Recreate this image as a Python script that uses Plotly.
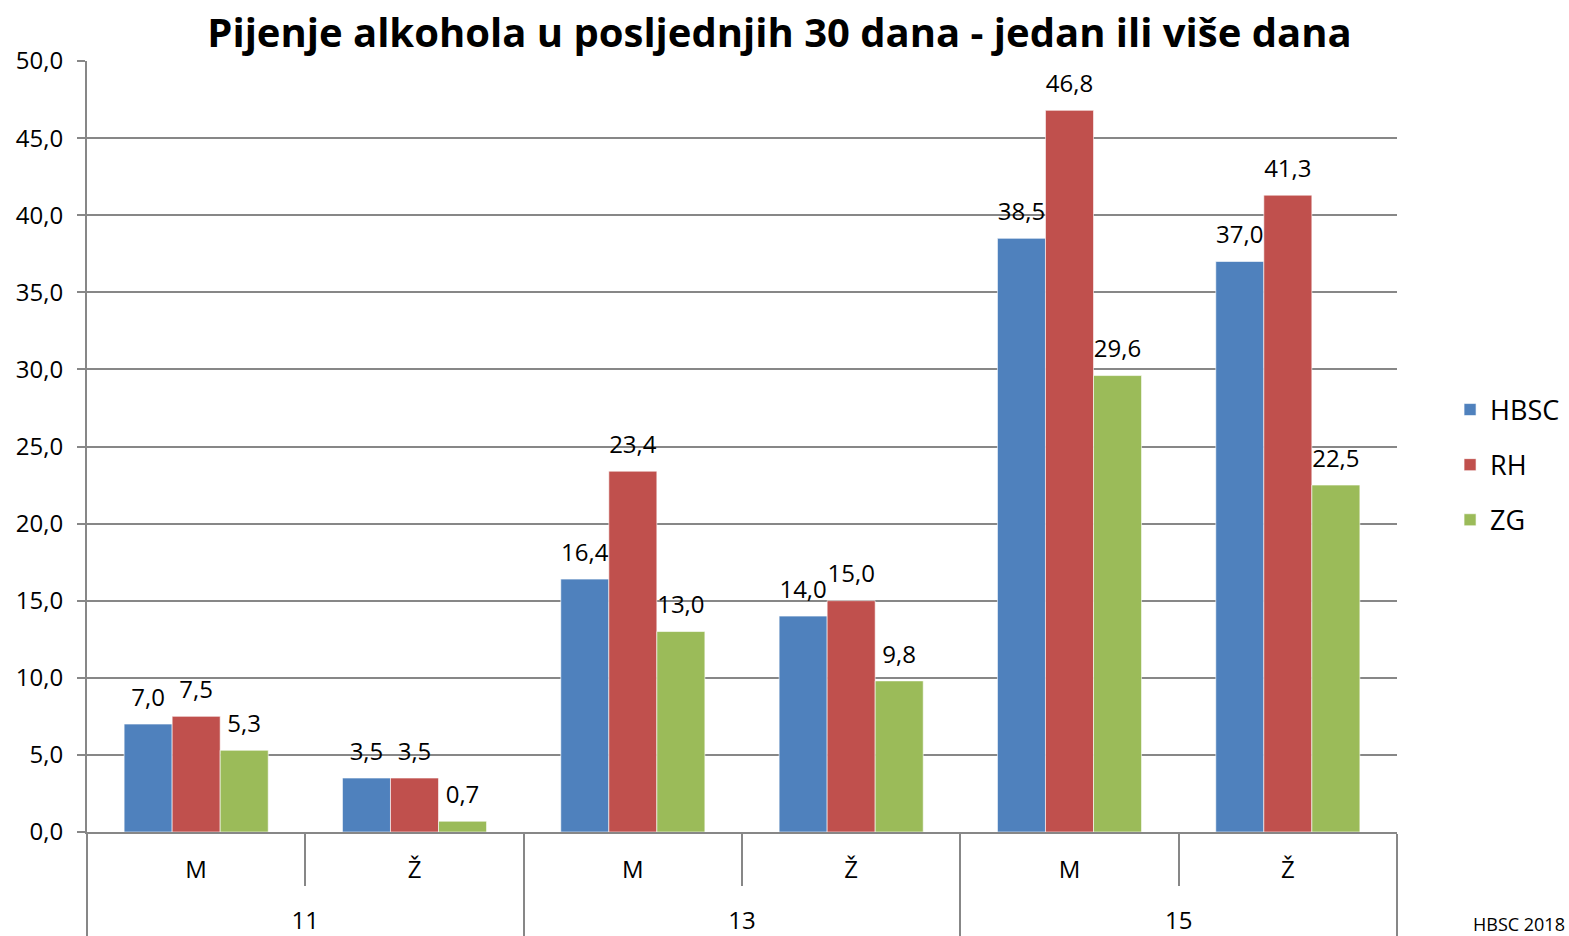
import plotly.graph_objects as go

ages = ["11", "11", "13", "13", "15", "15"]
sexes = ["M", "Ž", "M", "Ž", "M", "Ž"]
hbsc = [7.0, 3.5, 16.4, 14.0, 38.5, 37.0]
rh = [7.5, 3.5, 23.4, 15.0, 46.8, 41.3]
zg = [5.3, 0.7, 13.0, 9.8, 29.6, 22.5]
series = [("HBSC", hbsc, "#4F81BD"), ("RH", rh, "#C0504D"), ("ZG", zg, "#9BBB59")]
title = "Pijenje alkohola u posljednjih 30 dana - jedan ili više dana"
source = "HBSC 2018"

font = "Open Sans"
# first-level labels get a trailing blank line: pushes the age row down and lengthens the dividers
sex_lbl = [s + "<br> " for s in sexes]
xcat = [ages, sex_lbl]

fig = go.Figure()
for name, vals, col in series:
    fig.add_trace(go.Bar(
        x=xcat, y=vals, name=name, legendgroup=name, offsetgroup=name,
        marker=dict(color=col, line=dict(color="rgba(255,255,255,0.6)", width=1)),
    ))
for name, vals, col in series:
    fig.add_trace(go.Scatter(
        x=xcat, y=vals, name=name, legendgroup=name, offsetgroup=name, showlegend=False,
        mode="markers+text", marker=dict(size=18, color="rgba(0,0,0,0)"),
        text=[f"{v:.1f}".replace(".", ",") for v in vals], textposition="top center",
        textfont=dict(size=24, color="#000", family=font), cliponaxis=False, hoverinfo="skip",
    ))

fig.update_layout(
    width=1569, height=936, autosize=False,
    paper_bgcolor="white", plot_bgcolor="white",
    margin=dict(l=87, r=172, t=61, b=104, autoexpand=False),
    barmode="group", bargap=0.34, bargroupgap=0,
    scattermode="group", scattergap=0.34,
    separators=",.",
    title=dict(text="<b>" + title + "</b>", x=0.4968, xanchor="center", y=0.965, yanchor="middle",
               font=dict(size=40, family=font, color="#000")),
    legend=dict(x=1.0405, y=0.476, xanchor="left", yanchor="middle",
                font=dict(size=27, family=font, color="#000"),
                tracegroupgap=17, traceorder="grouped", bgcolor="rgba(0,0,0,0)"),
    annotations=[dict(text=source, xref="paper", yref="paper", x=1.1298, y=-0.119,
                      xanchor="right", yanchor="middle", showarrow=False,
                      font=dict(size=18, family=font, color="#000"))],
)
fig.update_yaxes(range=[0, 50], dtick=5, tickformat=".1f", showgrid=True, gridcolor="#878787",
                 gridwidth=1.5, showline=True, linecolor="#878787", linewidth=2,
                 ticks="outside", ticklen=8, tickcolor="#878787", tickwidth=1.5,
                 ticklabelstandoff=9, automargin=False,
                 tickfont=dict(size=24, family=font, color="#000"), zeroline=False)
fig.update_xaxes(type="multicategory", showline=True, linecolor="#878787", linewidth=2,
                 ticks="outside", tickson="boundaries", ticklen=52, tickcolor="#878787", tickwidth=2,
                 ticklabelstandoff=15, automargin=False,
                 showdividers=True, dividercolor="#878787", dividerwidth=2,
                 tickfont=dict(size=24, family=font, color="#000"))

fig.write_html("out.html", config={"responsive": False, "displayModeBar": False},
               post_script="document.body.style.margin='0';document.body.style.overflow='hidden';")
